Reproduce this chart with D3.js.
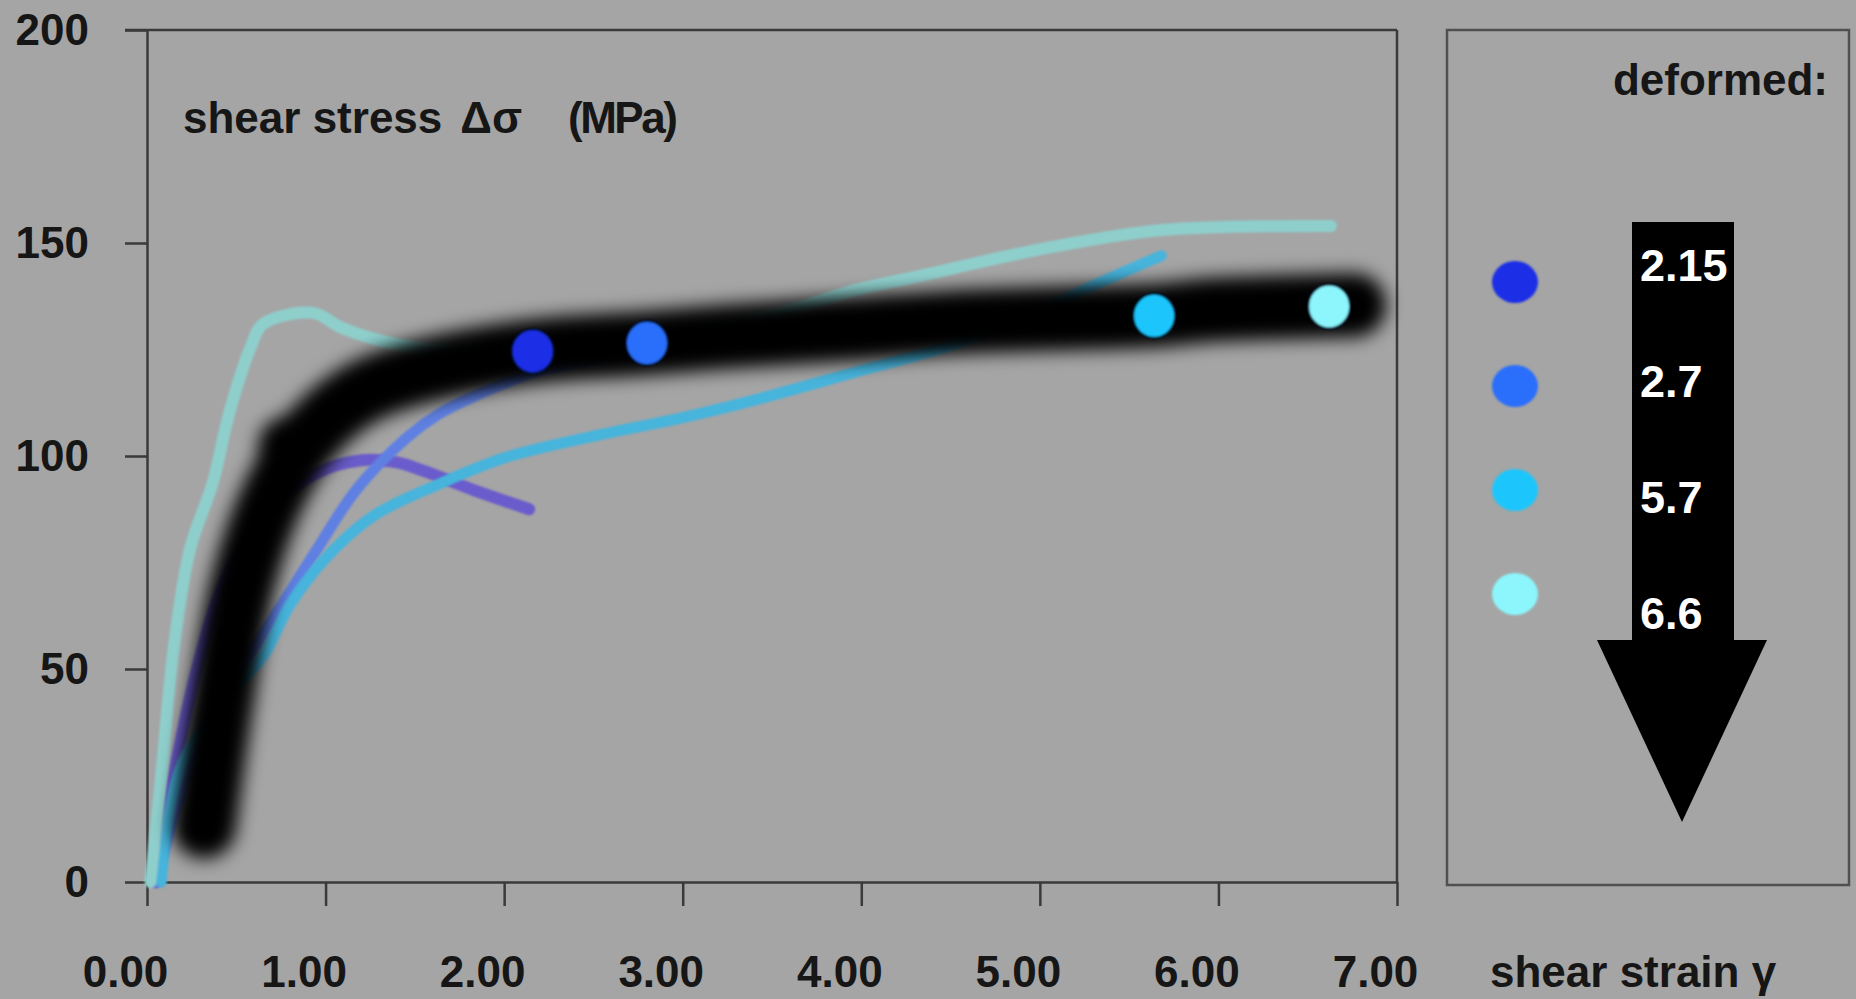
<!DOCTYPE html>
<html>
<head>
<meta charset="utf-8">
<script src="https://cdn.jsdelivr.net/npm/d3@7"></script>
<style>
  html, body { margin: 0; padding: 0; background: #a5a5a5; }
  svg { display: block; font-family: "Liberation Sans", Arial, sans-serif; font-weight: bold; }
</style>
</head>
<body>
<div id="chart"></div>
<script>
const width = 1856;
const height = 999;

// axis ticks
const xTicks = [0, 1, 2, 3, 4, 5, 6, 7];
const yTicks = [0, 50, 100, 150, 200];

// legend: deformed strain values and their colours
const strains = ["2.15", "2.7", "5.7", "6.6"];
const strainColors = ["#1a2ee6", "#2a6efc", "#1ec6fc", "#8cf6fc"];

// coloured markers on the black curve
const dotX = [2.16, 2.8, 5.64, 6.62];
const dotY = [124.6, 126.5, 132.9, 135.1];

// black markers merged into the black curve
const blackDotX = [0.8, 3.25, 4.61, 5.97];
const blackDotY = [102, 128, 131.6, 134.4];

// thick black (blurred) curve
const blackX = [0.32, 0.41, 0.53, 0.70, 0.90, 1.17, 1.5, 2.16, 2.8, 3.25, 4.0, 4.61, 5.3, 5.64, 5.97, 6.4, 6.76];
const blackY = [13, 40, 69, 90, 104, 114, 119.4, 124.6, 126.5, 128, 130, 131.6, 132.5, 133, 134.3, 135, 135.4];

// thin curves, one per deformed strain
const purpleX = [0.05, 0.15, 0.28, 0.45, 0.7, 0.95, 1.2, 1.4, 1.55, 1.83, 2.14];
const purpleY = [0, 25, 50, 72, 88, 96, 99, 98.5, 96.5, 92, 87.5];

const blueX = [0.05, 0.2, 0.4, 0.6, 0.8, 0.95, 1.18, 1.46, 1.64, 1.83, 2.2, 2.7];
const blueY = [0, 22, 42, 55, 68, 78, 92.5, 104.5, 110, 114, 120, 124];

const cyanX = [0.08, 0.12, 0.2, 0.35, 0.5, 0.65, 0.8, 1.0, 1.27, 1.64, 2.02, 2.54, 3.0, 3.39, 3.95, 4.5, 5.0, 5.3, 5.68];
const cyanY = [0, 15, 28, 38, 46, 53, 65, 76, 86, 93.5, 99.8, 105, 109, 113, 119.5, 126, 134, 140, 147];

const tealX = [0.02, 0.08, 0.15, 0.24, 0.37, 0.46, 0.58, 0.65, 0.93, 1.08, 1.27, 1.6, 2.2, 3.0, 3.5, 3.97, 4.3, 5.0, 5.67, 6.63];
const tealY = [0, 25, 55, 78, 94, 110, 125.5, 131, 133.6, 130.3, 127.5, 125, 126, 129, 133, 139, 142, 148.5, 153, 154];

const curves = [
  { xs: purpleX, ys: purpleY, color: "#6b5ccc", w: 12 },
  { xs: blueX, ys: blueY, color: "#5e80e2", w: 11 },
  { xs: cyanX, ys: cyanY, color: "#46b4dc", w: 11 },
  { xs: tealX, ys: tealY, color: "#8ecfcc", w: 12 }
];

const x = d3.scaleLinear().domain([0, 7]).range([147, 1397]);
const y = d3.scaleLinear().domain([0, 200]).range([882, 30]);

const svg = d3.select("#chart")
  .append("svg")
  .attr("width", width)
  .attr("height", height);

svg.append("rect")
  .attr("width", width)
  .attr("height", height)
  .attr("fill", "#a5a5a5");

const defs = svg.append("defs");
defs.append("filter")
  .attr("id", "bigBlur")
  .attr("x", "-20%").attr("y", "-20%")
  .attr("width", "140%").attr("height", "140%")
  .append("feGaussianBlur")
  .attr("stdDeviation", 9);
defs.append("filter")
  .attr("id", "soft")
  .attr("x", "-10%").attr("y", "-10%")
  .attr("width", "120%").attr("height", "120%")
  .append("feGaussianBlur")
  .attr("stdDeviation", 1.3);

const axisColor = "#3a3a3a";

// frame: top and right edges
svg.append("line")
  .attr("x1", 125).attr("x2", x(7))
  .attr("y1", y(200)).attr("y2", y(200))
  .attr("stroke", axisColor).attr("stroke-width", 2.5);
svg.append("line")
  .attr("x1", x(7)).attr("x2", x(7))
  .attr("y1", y(200)).attr("y2", y(0))
  .attr("stroke", axisColor).attr("stroke-width", 2.5);

const yAxis = svg.append("g")
  .attr("transform", `translate(${x(0)},0)`)
  .call(d3.axisLeft(y).tickValues(yTicks).tickSize(22).tickSizeOuter(0).tickPadding(36));

const xAxis = svg.append("g")
  .attr("transform", `translate(0,${y(0)})`)
  .call(d3.axisBottom(x).tickValues(xTicks).tickSize(24).tickSizeOuter(0)
    .tickPadding(50).tickFormat(d3.format(".2f")));

[xAxis, yAxis].forEach(g => {
  g.attr("color", axisColor);
  g.selectAll("path, line").attr("stroke-width", 2.5);
  g.selectAll("text")
    .attr("fill", "#161616")
    .style("font-family", "'Liberation Sans', Arial, sans-serif")
    .style("font-weight", "bold")
    .style("font-size", "44px");
});
xAxis.selectAll("text").attr("x", -22);

const line = d3.line()
  .x(d => x(d[0]))
  .y(d => y(d[1]))
  .curve(d3.curveCatmullRom.alpha(0.5));

const plot = svg.append("g");

// thin curves (underneath the black band)
plot.selectAll(".curve")
  .data(curves)
  .enter()
  .append("path")
  .attr("class", "curve")
  .attr("d", c => line(c.xs.map((v, i) => [v, c.ys[i]])))
  .attr("fill", "none")
  .attr("stroke", c => c.color)
  .attr("stroke-width", c => c.w)
  .attr("stroke-linecap", "round")
  .attr("stroke-linejoin", "round")
  .attr("filter", "url(#soft)");

// blurred black band
const band = plot.append("g").attr("filter", "url(#bigBlur)");
band.append("path")
  .attr("d", line(blackX.map((v, i) => [v, blackY[i]])))
  .attr("fill", "none")
  .attr("stroke", "#000")
  .attr("stroke-width", 64)
  .attr("stroke-linecap", "round")
  .attr("stroke-linejoin", "round");
band.selectAll("circle")
  .data(blackDotX)
  .enter()
  .append("circle")
  .attr("cx", d => x(d))
  .attr("cy", (d, i) => y(blackDotY[i]))
  .attr("r", 32)
  .attr("fill", "#000");

// coloured markers
plot.append("g").attr("filter", "url(#soft)")
  .selectAll("ellipse")
  .data(dotX)
  .enter()
  .append("ellipse")
  .attr("cx", d => x(d))
  .attr("cy", (d, i) => y(dotY[i]))
  .attr("rx", 21)
  .attr("ry", 22)
  .attr("fill", (d, i) => strainColors[i])
  .attr("stroke", "#06122e")
  .attr("stroke-width", 2);

// axis titles
const title = svg.append("text")
  .attr("x", 183)
  .attr("y", 133)
  .attr("fill", "#161616")
  .style("font-size", "44px")
  .text("shear stress");
title.append("tspan")
  .attr("dx", 18)
  .text("Δσ");
title.append("tspan")
  .attr("dx", 46)
  .style("letter-spacing", "-2.5px")
  .text("(MPa)");

svg.append("text")
  .attr("x", 1490)
  .attr("y", 987)
  .attr("fill", "#161616")
  .style("font-size", "44px")
  .text("shear strain γ");

// legend box
const legend = svg.append("g");
legend.append("rect")
  .attr("x", 1447).attr("y", 30)
  .attr("width", 402).attr("height", 855)
  .attr("fill", "none")
  .attr("stroke", "#505050")
  .attr("stroke-width", 2.5);

legend.append("text")
  .attr("x", 1828).attr("y", 95)
  .attr("text-anchor", "end")
  .attr("fill", "#161616")
  .style("font-size", "44px")
  .text("deformed:");

legend.append("path")
  .attr("d", "M1632,222 L1734,222 L1734,640 L1767,640 L1682,822 L1597,640 L1632,640 Z")
  .attr("fill", "#000");

legend.selectAll(".ldot")
  .data(strains)
  .enter()
  .append("ellipse")
  .attr("class", "ldot")
  .attr("cx", 1515)
  .attr("cy", (d, i) => 282 + i * 104)
  .attr("rx", 23)
  .attr("ry", 21)
  .attr("fill", (d, i) => strainColors[i])
  .attr("filter", "url(#soft)");

legend.selectAll(".llab")
  .data(strains)
  .enter()
  .append("text")
  .attr("class", "llab")
  .attr("x", 1640)
  .attr("y", (d, i) => 281 + i * 116)
  .attr("fill", "#fff")
  .style("font-size", "45px")
  .text(d => d);
</script>
</body>
</html>
